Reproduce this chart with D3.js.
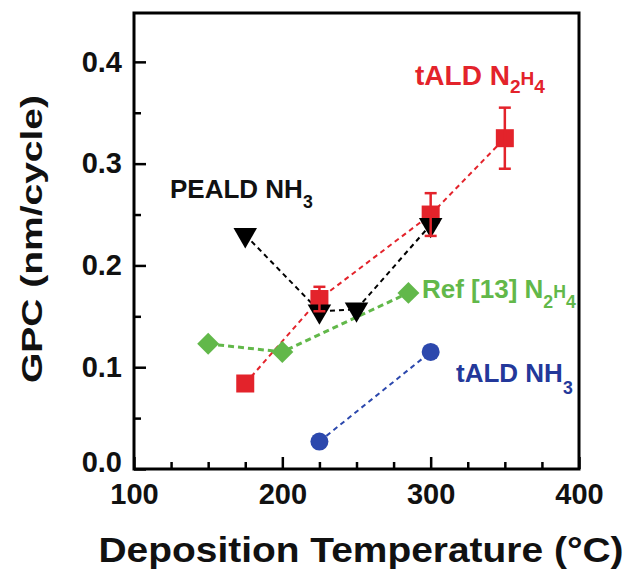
<!DOCTYPE html>
<html>
<head>
<meta charset="utf-8">
<script src="https://cdn.jsdelivr.net/npm/d3@7"></script>
<style>
  body { margin: 0; background: #fff; }
  text { font-family: "Liberation Sans", Arial, sans-serif; font-weight: bold; }
</style>
</head>
<body>
<div id="plot"></div>
<script>
// data
const xTicks = [100, 200, 300, 400];
const yTicks = [0.0, 0.1, 0.2, 0.3, 0.4];

const taldN2H4_T = [175, 225, 300, 350];
const taldN2H4_gpc = [0.084, 0.167, 0.250, 0.325];
const taldN2H4_err = [0, 0.012, 0.021, 0.030];

const pealdNH3_T = [175, 225, 250, 300];
const pealdNH3_gpc = [0.230, 0.155, 0.157, 0.240];

const ref13_T = [150, 200, 285];
const ref13_gpc = [0.123, 0.115, 0.173];

const taldNH3_T = [225, 300];
const taldNH3_gpc = [0.027, 0.115];

const red = "#e3232b", green = "#62b84a", blue = "#2c48ad", black = "#000";

const width = 638, height = 573;
const plotLeft = 134, plotRight = 579, plotTop = 13, plotBottom = 469;

const svg = d3.select("#plot").append("svg")
  .attr("width", width)
  .attr("height", height);

svg.append("rect").attr("width", width).attr("height", height).attr("fill", "#fff");

const x = d3.scaleLinear().domain([100, 400]).range([plotLeft, plotRight]);
const y = d3.scaleLinear().domain([0, 0.448]).range([plotBottom, plotTop]);

// minor ticks
svg.append("g")
  .attr("transform", "translate(0," + plotBottom + ")")
  .call(d3.axisBottom(x).tickValues(d3.range(125, 400, 25).filter(v => v % 100)).tickSize(-7).tickFormat(""))
  .call(g => g.select(".domain").remove())
  .selectAll("line").attr("stroke-width", 2.5);

svg.append("g")
  .attr("transform", "translate(" + plotLeft + ",0)")
  .call(d3.axisLeft(y).tickValues([0.05, 0.15, 0.25, 0.35]).tickSize(-7).tickFormat(""))
  .call(g => g.select(".domain").remove())
  .selectAll("line").attr("stroke-width", 2.5);

// major ticks + labels
const xAxis = svg.append("g")
  .attr("transform", "translate(0," + plotBottom + ")")
  .call(d3.axisBottom(x).tickValues(xTicks).tickSize(-12).tickPadding(14).tickFormat(d3.format("d")));
xAxis.select(".domain").remove();
xAxis.selectAll("line").attr("stroke-width", 2.5);
xAxis.selectAll("text").attr("font-size", 29).attr("fill", "#111")
  .style("font-family", "'Liberation Sans', Arial, sans-serif").style("font-weight", "bold");

const yAxis = svg.append("g")
  .attr("transform", "translate(" + plotLeft + ",0)")
  .call(d3.axisLeft(y).tickValues(yTicks).tickSize(-12).tickPadding(12).tickFormat(d3.format(".1f")));
yAxis.select(".domain").remove();
yAxis.selectAll("line").attr("stroke-width", 2.5);
yAxis.selectAll("text").attr("font-size", 29).attr("fill", "#111")
  .style("font-family", "'Liberation Sans', Arial, sans-serif").style("font-weight", "bold")
  .attr("dy", d => d === 0 ? "0.1em" : "0.32em");

// frame
svg.append("rect")
  .attr("x", plotLeft).attr("y", plotTop)
  .attr("width", plotRight - plotLeft).attr("height", plotBottom - plotTop)
  .attr("fill", "none").attr("stroke", "#000").attr("stroke-width", 3);

// axis titles
svg.append("text")
  .attr("x", 361).attr("y", 562)
  .attr("text-anchor", "middle")
  .attr("font-size", 35)
  .attr("textLength", 525).attr("lengthAdjust", "spacingAndGlyphs")
  .attr("fill", "#111")
  .text("Deposition Temperature (°C)");

svg.append("text")
  .attr("transform", "translate(42,239) rotate(-90)")
  .attr("text-anchor", "middle")
  .attr("font-size", 30)
  .attr("textLength", 288).attr("lengthAdjust", "spacingAndGlyphs")
  .attr("fill", "#111")
  .text("GPC (nm/cycle)");

// dashed connecting lines
const line = d3.line().x(d => x(d[0])).y(d => y(d[1]));
function series(T, v) { return T.map((t, i) => [t, v[i]]); }

svg.append("path").datum(series(ref13_T, ref13_gpc))
  .attr("d", line).attr("fill", "none").attr("stroke", green)
  .attr("stroke-width", 3).attr("stroke-dasharray", "6,4");
svg.append("path").datum(series(taldNH3_T, taldNH3_gpc))
  .attr("d", line).attr("fill", "none").attr("stroke", blue)
  .attr("stroke-width", 2).attr("stroke-dasharray", "5,4");
svg.append("path").datum(series(taldN2H4_T, taldN2H4_gpc))
  .attr("d", line).attr("fill", "none").attr("stroke", red)
  .attr("stroke-width", 2).attr("stroke-dasharray", "5,4");
svg.append("path").datum(series(pealdNH3_T, pealdNH3_gpc))
  .attr("d", line).attr("fill", "none").attr("stroke", black)
  .attr("stroke-width", 2).attr("stroke-dasharray", "5,4");

// markers
svg.selectAll(".dia").data(series(ref13_T, ref13_gpc)).enter()
  .append("path")
  .attr("d", d3.symbol(d3.symbolSquare, 240)())
  .attr("transform", d => "translate(" + x(d[0]) + "," + y(d[1]) + ") rotate(45)")
  .attr("fill", green);

svg.selectAll(".circ").data(series(taldNH3_T, taldNH3_gpc)).enter()
  .append("circle")
  .attr("cx", d => x(d[0])).attr("cy", d => y(d[1])).attr("r", 9)
  .attr("fill", blue);

svg.selectAll(".sq").data(series(taldN2H4_T, taldN2H4_gpc)).enter()
  .append("rect")
  .attr("x", d => x(d[0]) - 9).attr("y", d => y(d[1]) - 9)
  .attr("width", 18).attr("height", 18)
  .attr("fill", red);

svg.selectAll(".tri").data(series(pealdNH3_T, pealdNH3_gpc)).enter()
  .append("path")
  .attr("d", d3.symbol(d3.symbolTriangle, 240)())
  .attr("transform", d => "translate(" + x(d[0]) + "," + y(d[1]) + ") rotate(180)")
  .attr("fill", black);

// error bars
const eb = svg.selectAll(".eb").data(taldN2H4_T.map((t, i) => [t, taldN2H4_gpc[i], taldN2H4_err[i]]).filter(d => d[2] > 0))
  .enter().append("g").attr("stroke", red).attr("stroke-width", 2.5);
eb.append("line")
  .attr("x1", d => x(d[0])).attr("x2", d => x(d[0]))
  .attr("y1", d => y(d[1] - d[2])).attr("y2", d => y(d[1] + d[2]));
eb.append("line")
  .attr("x1", d => x(d[0]) - 6).attr("x2", d => x(d[0]) + 6)
  .attr("y1", d => y(d[1] + d[2])).attr("y2", d => y(d[1] + d[2]));
eb.append("line")
  .attr("x1", d => x(d[0]) - 6).attr("x2", d => x(d[0]) + 6)
  .attr("y1", d => y(d[1] - d[2])).attr("y2", d => y(d[1] - d[2]));

// series labels with subscripts
function label(px, py, parts, color, size) {
  const t = svg.append("text").attr("x", px).attr("y", py)
    .attr("font-size", size).attr("fill", color);
  parts.forEach(p => {
    const s = t.append("tspan").text(p[0]);
    if (p[1]) s.attr("font-size", size * 0.68).attr("dy", p[1]);
  });
}
label(415, 85, [["tALD N"], ["2", 8], ["H", -8], ["4", 8]], red, 28);
label(170, 198, [["PEALD NH"], ["3", 10]], "#111", 26);
label(422, 298, [["Ref [13] N"], ["2", 10], ["H", -10], ["4", 10]], green, 26);
label(456, 382, [["tALD NH"], ["3", 12]], "#23389a", 26);
</script>
</body>
</html>
